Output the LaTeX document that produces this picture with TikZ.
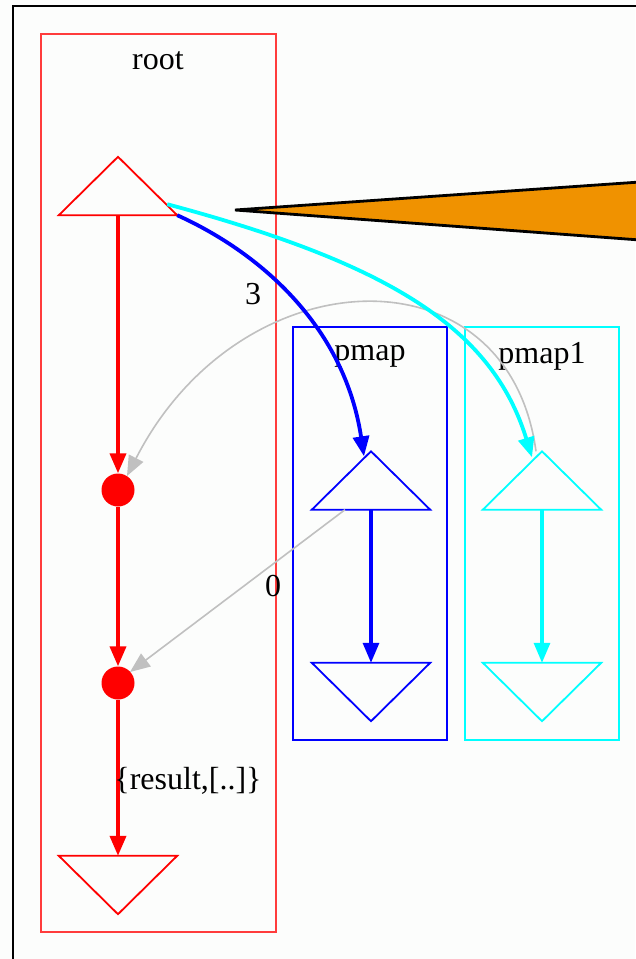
\documentclass[tikz,border=0pt]{standalone}
\usepackage{fontspec}
\setmainfont{Liberation Serif}
\usetikzlibrary{arrows.meta}
\definecolor{bgc}{RGB}{252,253,252}
\definecolor{orng}{RGB}{240,146,0}
\definecolor{grayE}{RGB}{192,192,192}
\definecolor{cyanE}{RGB}{0,255,255}
\definecolor{blueE}{RGB}{0,0,255}
\definecolor{redE}{RGB}{255,0,0}
\definecolor{redC}{RGB}{255,60,60}
\begin{document}
\begin{tikzpicture}[x=1pt,y=-1pt,
  lbl/.style={font=\fontsize{32}{34}\selectfont, inner sep=0pt},
  box/.style={inner sep=0pt, minimum width=118pt, minimum height=58pt},
  tip/.style={-{Triangle[length=20pt,width=16pt]}},
  clus/.style={line width=1.8pt},
  tri/.style={line width=1.8pt, line join=miter},
  dot/.style={circle, fill=redE, inner sep=0pt, minimum size=33pt}]
\useasboundingbox (0,0) rectangle (635,959);
\fill[bgc] (0,0) rectangle (635,959);
\draw[line width=2.8pt] (13,962) -- (13,6) -- (640,6);
% clusters
\draw[clus, redC] (41,34) rectangle (276,932);
\draw[clus, blueE] (293,327) rectangle (447,740);
\draw[clus, cyanE] (465,327) rectangle (619,740);
\node[lbl] (lroot) at (158,61) {root};
\node[lbl] (lpmap) at (370,356) {pmap};
\node[lbl] (lpmap1) at (542,356) {pmap1};
% nodes
\node[box] (s) at (118,186) {};
\draw[tri, redE] (s.south west) -- (s.north) -- (s.south east) -- cycle;
\node[dot] (d1) at (118,490) {};
\node[dot] (d2) at (118,683) {};
\node[box] (e) at (118,885) {};
\draw[tri, redE] (e.north west) -- (e.south) -- (e.north east) -- cycle;
\node[box] (ps) at (371,480.5) {};
\draw[tri, blueE] (ps.south west) -- (ps.north) -- (ps.south east) -- cycle;
\node[box] (pe) at (371,692) {};
\draw[tri, blueE] (pe.north west) -- (pe.south) -- (pe.north east) -- cycle;
\node[box] (qs) at (542,480.5) {};
\draw[tri, cyanE] (qs.south west) -- (qs.north) -- (qs.south east) -- cycle;
\node[box] (qe) at (542,692) {};
\draw[tri, cyanE] (qe.north west) -- (qe.south) -- (qe.north east) -- cycle;
% orange wedge
\coordinate (w1) at (640,182);
\coordinate (w2) at (640,240);
\node[inner sep=0pt] (wt) at (235,210) {};
\draw[fill=orng, line width=2.8pt, line join=miter] (wt.center) -- (w1) -- (w2) -- cycle;
% red edges
\draw[tip, redE, line width=3.8pt] (s.south) -- (d1.north);
\draw[tip, redE, line width=3.8pt] (d1.south) -- (d2.north);
\draw[tip, redE, line width=3.8pt] (d2.south) -- (e.north);
\node[lbl] (lres) at (188,781) {\{result,[..]\}};
% inner cluster edges
\draw[tip, blueE, line width=3.2pt] (ps.south) -- (pe.north);
\draw[tip, cyanE, line width=3.2pt] (qs.south) -- (qe.north);
% gray edges
\draw[tip, grayE, line width=1.6pt] ([xshift=-6pt]qs.north) .. controls (508,245) and (240,255) .. ([xshift=9pt,yshift=14pt]d1.center);
\draw[tip, grayE, line width=1.6pt] ([xshift=-26pt]ps.south) -- ([xshift=12pt,yshift=11pt]d2.center);
\node[lbl] (l0) at (273,586) {0};
% blue and cyan curves
\draw[tip, blueE, line width=3.8pt] (s.south east) .. controls (265,255) and (345,330) .. ([xshift=-7pt,yshift=-5pt]ps.north);
\draw[tip, cyanE, line width=3.8pt] ([xshift=-10pt,yshift=11pt]s.south east) .. controls (387,263) and (492,327) .. ([xshift=-10pt,yshift=-6pt]qs.north);
\node[lbl] (l3) at (253,294) {3};
\end{tikzpicture}
\end{document}
